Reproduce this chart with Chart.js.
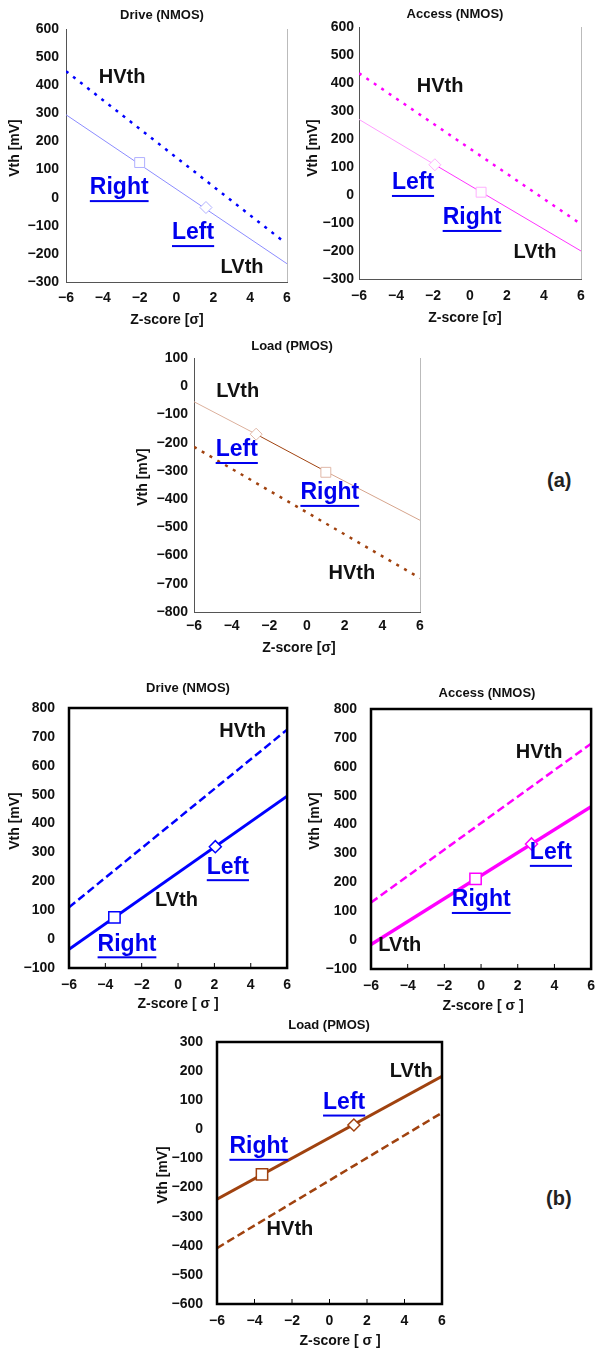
<!DOCTYPE html>
<html><head><meta charset="utf-8">
<script src="https://cdn.jsdelivr.net/npm/chart.js@4"></script>
<style>
html,body{margin:0;padding:0;background:#fff;overflow:hidden}
body{width:599px;height:1352px;position:relative;font-family:"Liberation Sans",Arial,sans-serif}
canvas{position:absolute}
.lbl{position:absolute;font:bold 20px "Liberation Sans",Arial,sans-serif;color:#222;line-height:22px}
</style></head><body>
<div class="lbl" style="left:547px;top:469px">(a)</div>
<div class="lbl" style="left:546px;top:1187px">(b)</div>
<script>
// ---------- DATA ----------
const xTicks = [-6, -4, -2, 0, 2, 4, 6];
// (a) Drive (NMOS)
const aDriveHZ = [-6, 5.8];      const aDriveH = [450, -155];
const aDriveLZ = [-6, 6];        const aDriveL = [295, -235];
const aDriveRight = [-2, 125];   const aDriveLeft = [1.6, -35];
// (a) Access (NMOS)
const aAccHZ = [-6, 5.8];        const aAccH = [435, -95];
const aAccLZ = [-6, -1.9, 6];    const aAccL = [270, 108, -200];
const aAccRight = [0.6, 10];     const aAccLeft = [-1.9, 108];
// (a) Load (PMOS)
const aLoadHZ = [-6, 6];         const aLoadH = [-215, -680];
const aLoadLZ = [-6, -2.7, 1, 6];const aLoadL = [-55, -170, -302, -475];
const aLoadRight = [1, -305];    const aLoadLeft = [-2.7, -170];
// (b) Drive (NMOS)
const bDriveHZ = [-6, 6];        const bDriveH = [110, 725];
const bDriveLZ = [-6, 6];        const bDriveL = [-35, 495];
const bDriveRight = [-3.5, 75];  const bDriveLeft = [2.05, 320];
// (b) Access (NMOS)
const bAccHZ = [-6, 6];          const bAccH = [130, 680];
const bAccLZ = [-6, 6];          const bAccL = [-15, 462];
const bAccRight = [-0.3, 212];   const bAccLeft = [2.75, 333];
// (b) Load (PMOS)
const bLoadHZ = [-6, 6];         const bLoadH = [-408, 57];
const bLoadLZ = [-6, 6];         const bLoadL = [-240, 182];
const bLoadRight = [-3.6, -155]; const bLoadLeft = [1.3, 15];

const FONT = '"Liberation Sans", Arial, sans-serif';
const zip = (xs, ys) => xs.map((x, i) => ({x, y: ys[i]}));
const fmt = v => v < 0 ? '\u2212' + Math.abs(v) : String(v);

function make(c) {
  const cv = document.createElement('canvas');
  cv.width = c.box[2]; cv.height = c.box[3];
  cv.style.left = c.box[0] + 'px'; cv.style.top = c.box[1] + 'px';
  cv.style.width = c.box[2] + 'px'; cv.style.height = c.box[3] + 'px';
  document.body.appendChild(cv);
  const [L, T, R, B] = c.area;
  const ox = c.box[0], oy = c.box[1];
  const deco = {
    id: 'deco',
    afterDraw(ch) {
      const g = ch.ctx, a = ch.chartArea;
      g.save();
      if (c.framed) {
        g.strokeStyle = '#000'; g.lineWidth = 2.5;
        g.strokeRect(a.left, a.top, a.right - a.left, a.bottom - a.top);
        g.lineWidth = 1;
        ch.scales.x.ticks.forEach((t, i) => {
          const px = ch.scales.x.getPixelForTick(i);
          if (i === 0 || i === ch.scales.x.ticks.length - 1) return;
          g.beginPath(); g.moveTo(px, a.bottom); g.lineTo(px, a.bottom - 5); g.stroke();
        });
      } else {
        g.strokeStyle = '#bbb'; g.lineWidth = 1;
        g.beginPath(); g.moveTo(a.right + 0.5, a.top); g.lineTo(a.right + 0.5, a.bottom); g.stroke();
      }
      g.fillStyle = '#111';
      g.textAlign = 'center'; g.textBaseline = 'middle';
      g.font = 'bold 13px ' + FONT;
      g.fillText(c.title, c.titlePos[0] - ox, c.titlePos[1] - oy);
      g.font = 'bold 14px ' + FONT;
      g.fillText(c.xTitle, c.xTitlePos[0] - ox, c.xTitlePos[1] - oy);
      g.save();
      g.translate(c.yTitlePos[0] - ox, c.yTitlePos[1] - oy);
      g.rotate(-Math.PI / 2);
      g.fillText('Vth [mV]', 0, 0);
      g.restore();
      c.notes.forEach(n => {
        const px = ch.scales.x.getPixelForValue(n.x), py = ch.scales.y.getPixelForValue(n.y);
        if (n.u) {
          g.font = 'bold 23px ' + FONT; g.fillStyle = '#0000ee';
          g.fillText(n.t, px, py);
          const w = g.measureText(n.t).width;
          g.fillRect(px - w / 2, py + 12, w, 2);
        } else {
          g.font = 'bold 20px ' + FONT; g.fillStyle = '#111';
          g.fillText(n.t, px, py);
        }
      });
      g.restore();
    }
  };
  const tickFont = {family: FONT, size: 14, weight: 'bold'};
  const seg = c.segColors;
  new Chart(cv, {
    type: 'scatter',
    data: {
      datasets: [
        {data: [{x: c.right[0], y: c.right[1]}], pointStyle: 'rect', pointRadius: c.sqR,
         pointBorderColor: c.mkColor, pointBackgroundColor: '#fff', pointBorderWidth: c.mkW, showLine: false},
        {data: [{x: c.left[0], y: c.left[1]}], pointStyle: 'rectRot', pointRadius: c.dmR,
         pointBorderColor: c.mkColor, pointBackgroundColor: '#fff', pointBorderWidth: c.mkW, showLine: false},
        {data: zip(c.lz, c.lv), showLine: true, pointRadius: 0, borderColor: seg[0], borderWidth: c.lw,
         segment: {borderColor: s => seg[s.p0DataIndex] || seg[0]}},
        {data: zip(c.hz, c.hv), showLine: true, pointRadius: 0, borderColor: c.hColor, borderWidth: c.hw,
         borderDash: c.dash, borderCapStyle: 'butt'}
      ]
    },
    options: {
      responsive: false, animation: false, devicePixelRatio: 1,
      layout: {padding: {left: 0, bottom: 0, top: T - oy, right: ox + c.box[2] - R}},
      plugins: {legend: {display: false}, tooltip: {enabled: false}},
      scales: {
        x: {type: 'linear', min: -6, max: 6,
            afterBuildTicks: s => { s.ticks = xTicks.map(v => ({value: v})); },
            ticks: {callback: fmt, font: tickFont, color: '#111', padding: c.xPad, autoSkip: false, maxRotation: 0},
            grid: {display: false, drawTicks: false},
            border: {display: !c.framed, color: '#555', width: 1},
            afterFit: s => { s.height = oy + c.box[3] - B; }},
        y: {type: 'linear', min: c.ymin, max: c.ymax,
            ticks: {stepSize: 100, callback: fmt, font: tickFont, color: '#111', padding: c.yPad, autoSkip: false},
            grid: {display: false, drawTicks: false},
            border: {display: !c.framed, color: '#555', width: 1},
            afterFit: s => { s.width = L - ox; }}
      }
    },
    plugins: [deco]
  });
}

const BLUE = '#0000ff', MAG = '#ff00ff', BROWN = '#a0420f';

make({box: [0, 0, 300, 330], area: [66, 29, 287, 282], ymin: -300, ymax: 600, xPad: 8, yPad: 7,
  title: 'Drive (NMOS)', titlePos: [162, 15], xTitle: 'Z-score [σ]', xTitlePos: [167, 320], yTitlePos: [15, 148],
  hz: aDriveHZ, hv: aDriveH, lz: aDriveLZ, lv: aDriveL, right: aDriveRight, left: aDriveLeft,
  hColor: BLUE, hw: 2.5, dash: [3, 6], lw: 1, segColors: ['#8c8cff'], mkColor: '#b0b0ff', mkW: 1, sqR: 7, dmR: 6,
  notes: [{t: 'HVth', x: -2.95, y: 429}, {t: 'Right', x: -3.11, y: 34, u: 1}, {t: 'Left', x: 0.9, y: -126, u: 1}, {t: 'LVth', x: 3.56, y: -247}]});

make({box: [300, 0, 299, 330], area: [359, 27, 581, 279], ymin: -300, ymax: 600, xPad: 9, yPad: 5,
  title: 'Access (NMOS)', titlePos: [455, 14], xTitle: 'Z-score [σ]', xTitlePos: [465, 318], yTitlePos: [313, 148],
  hz: aAccHZ, hv: aAccH, lz: aAccLZ, lv: aAccL, right: aAccRight, left: aAccLeft,
  hColor: MAG, hw: 2.5, dash: [3, 6], lw: 1, segColors: ['#ff9cff', '#ff33ff'], mkColor: '#ffb0ff', mkW: 1, sqR: 7, dmR: 6,
  notes: [{t: 'HVth', x: -1.62, y: 386}, {t: 'Left', x: -3.08, y: 43, u: 1}, {t: 'Right', x: 0.11, y: -82, u: 1}, {t: 'LVth', x: 3.51, y: -204}]});

make({box: [130, 330, 320, 330], area: [194, 358, 420, 612], ymin: -800, ymax: 100, xPad: 6, yPad: 6,
  title: 'Load (PMOS)', titlePos: [292, 346], xTitle: 'Z-score [σ]', xTitlePos: [299, 648], yTitlePos: [143, 477],
  hz: aLoadHZ, hv: aLoadH, lz: aLoadLZ, lv: aLoadL, right: aLoadRight, left: aLoadLeft,
  hColor: BROWN, hw: 2.5, dash: [3, 6], lw: 1, segColors: ['#dcb09c', '#a0420f', '#d6a48c'], mkColor: '#e0b8a8', mkW: 1, sqR: 7, dmR: 6,
  notes: [{t: 'LVth', x: -3.68, y: -20}, {t: 'Left', x: -3.73, y: -226, u: 1}, {t: 'Right', x: 1.21, y: -378, u: 1}, {t: 'HVth', x: 2.38, y: -663}]});

make({box: [0, 670, 300, 352], area: [69, 708, 294, 968], ymin: -100, ymax: 800, xPad: 9, yPad: 14, framed: true,
  title: 'Drive (NMOS)', titlePos: [188, 688], xTitle: 'Z-score [ σ ]', xTitlePos: [178, 1004], yTitlePos: [15, 821],
  hz: bDriveHZ, hv: bDriveH, lz: bDriveLZ, lv: bDriveL, right: bDriveRight, left: bDriveLeft,
  hColor: BLUE, hw: 2.5, dash: [8, 4], lw: 3, segColors: [BLUE], mkColor: BLUE, mkW: 1.5, sqR: 8, dmR: 6,
  notes: [{t: 'HVth', x: 3.55, y: 718}, {t: 'Left', x: 2.74, y: 249, u: 1}, {t: 'LVth', x: -0.09, y: 135}, {t: 'Right', x: -2.81, y: -18, u: 1}]});

make({box: [300, 670, 304, 352], area: [371, 709, 595, 969], ymin: -100, ymax: 800, xPad: 9, yPad: 14, framed: true,
  title: 'Access (NMOS)', titlePos: [487, 693], xTitle: 'Z-score [ σ ]', xTitlePos: [483, 1006], yTitlePos: [315, 821],
  hz: bAccHZ, hv: bAccH, lz: bAccLZ, lv: bAccL, right: bAccRight, left: bAccLeft,
  hColor: MAG, hw: 2.5, dash: [8, 4], lw: 3.5, segColors: [MAG], mkColor: MAG, mkW: 1.5, sqR: 8, dmR: 6,
  notes: [{t: 'HVth', x: 3.17, y: 649}, {t: 'Left', x: 3.81, y: 302, u: 1}, {t: 'Right', x: 0.01, y: 139, u: 1}, {t: 'LVth', x: -4.43, y: -20}]});

make({box: [140, 1012, 320, 340], area: [217, 1042, 442, 1304], ymin: -600, ymax: 300, xPad: 9, yPad: 14, framed: true,
  title: 'Load (PMOS)', titlePos: [329, 1025], xTitle: 'Z-score [ σ ]', xTitlePos: [340, 1341], yTitlePos: [163, 1175],
  hz: bLoadHZ, hv: bLoadH, lz: bLoadLZ, lv: bLoadL, right: bLoadRight, left: bLoadLeft,
  hColor: BROWN, hw: 2.5, dash: [8, 4], lw: 3, segColors: [BROWN], mkColor: BROWN, mkW: 1.5, sqR: 8, dmR: 6,
  notes: [{t: 'LVth', x: 4.36, y: 198}, {t: 'Left', x: 0.78, y: 92, u: 1}, {t: 'Right', x: -3.77, y: -60, u: 1}, {t: 'HVth', x: -2.11, y: -345}]});
</script>
</body></html>
